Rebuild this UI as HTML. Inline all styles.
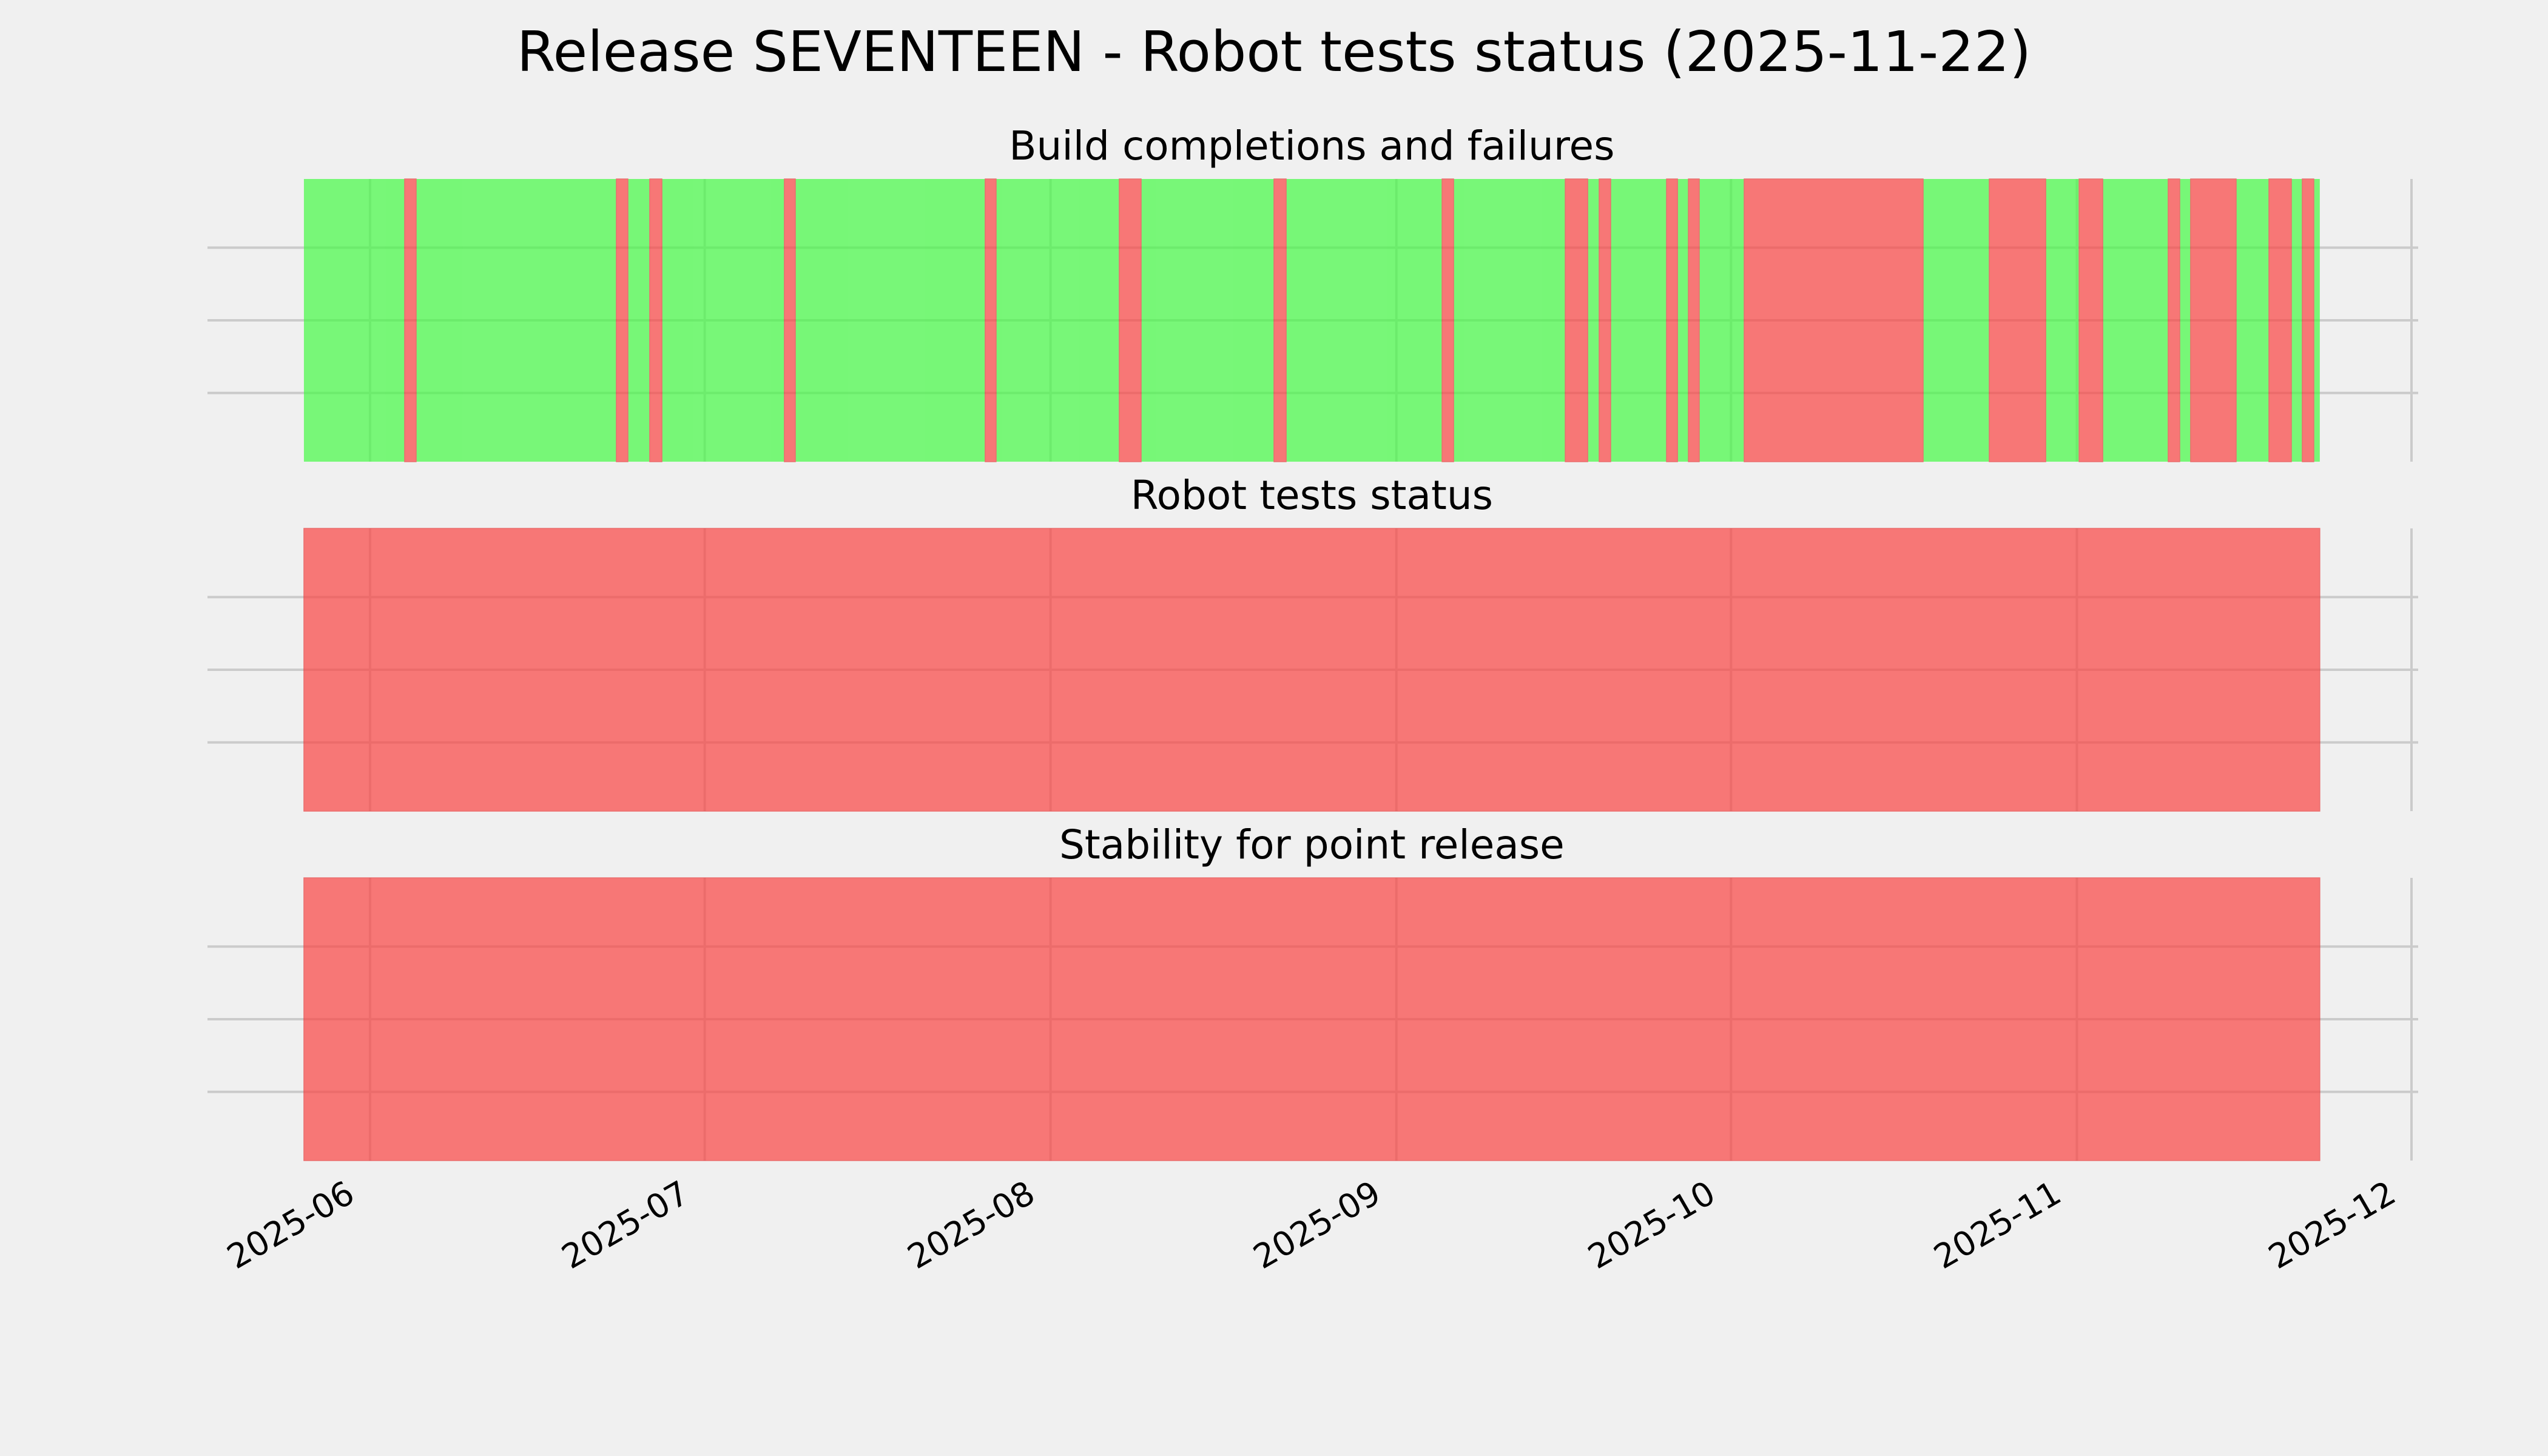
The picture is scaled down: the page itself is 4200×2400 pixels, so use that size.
<!DOCTYPE html>
<html><head><meta charset="utf-8"><style>
html,body{margin:0;padding:0;background:#f0f0f0;}
svg{display:block;font-family:"DejaVu Sans","Liberation Sans",sans-serif;}
</style></head><body>
<svg id="chart" width="4200" height="2400" viewBox="0 0 4200 2400" xmlns="http://www.w3.org/2000/svg">
<rect x="0" y="0" width="4200" height="2400" fill="#f0f0f0"/>
<text x="2100" y="117" font-size="92" text-anchor="middle" fill="#000">Release SEVENTEEN - Robot tests status (2025-11-22)</text>
<g id="panels"></g>
</svg>
<script>
// Days measured from 2025-06-01
const tickLabels = ["2025-06","2025-07","2025-08","2025-09","2025-10","2025-11","2025-12"];
const tickDays = [0, 30, 61, 92, 122, 153, 183];
const dataStartDay = -5.93;
const dataEndDay = 174.78;
const buildFailStarts = [3.10, 22.08, 25.07, 37.14, 55.14, 67.16, 81.03, 96.10, 107.14, 110.18, 116.22, 118.18, 123.18, 145.15, 153.20, 161.19, 163.20, 170.22, 173.21];
const buildFailEnds   = [4.13, 23.11, 26.16, 38.12, 56.12, 69.12, 82.12, 97.13, 109.15, 111.21, 117.20, 119.15, 139.22, 150.21, 155.32, 162.22, 167.28, 172.23, 174.24];
const robotFailStarts = [-5.93];
const robotFailEnds = [174.78];
const stabilityFailStarts = [-5.93];
const stabilityFailEnds = [174.78];
const panelTitles = ["Build completions and failures", "Robot tests status", "Stability for point release"];

const NS = "http://www.w3.org/2000/svg";
const g = document.getElementById('panels');
const X0 = 610, PXD = 18.388;
function xs(d){ return X0 + d*PXD; }
const panelTops = [295, 871, 1447];
const PH = 466;
const GREEN = "#45fa45", RED = "#fa4543", ALPHA = 0.7;
function mk(tag, attrs){ const e = document.createElementNS(NS, tag); for (const k in attrs) e.setAttribute(k, attrs[k]); return e; }

const failSets = [[buildFailStarts, buildFailEnds],[robotFailStarts, robotFailEnds],[stabilityFailStarts, stabilityFailEnds]];
const panelNames = ['build-panel','robot-panel','stability-panel'];

panelTops.forEach((top, pi) => {
  const pg = mk('g', {});
  
  
  g.appendChild(pg);
  const t = mk('text', {x: (xs(dataStartDay)+xs(dataEndDay))/2, y: top-32, 'font-size': 66, 'text-anchor': 'middle', fill: '#000'});
  t.textContent = panelTitles[pi];
  
  
  pg.appendChild(t);
  [0.243, 0.5, 0.757].forEach(f => {
    const l = mk('line', {x1: 342, x2: 3986, y1: top + PH*f, y2: top + PH*f, stroke: '#cbcbcb', 'stroke-width': 4});
    
    
    pg.appendChild(l);
  });
  tickDays.forEach(d => {
    const l = mk('line', {x1: xs(d), x2: xs(d), y1: top, y2: top + PH, stroke: '#cbcbcb', 'stroke-width': 4});
    
    
    pg.appendChild(l);
  });
  const bars = mk('g', {opacity: ALPHA});
  
  
  pg.appendChild(bars);
  if (pi === 0) {
    const bg = mk('rect', {x: xs(dataStartDay), y: top, width: xs(dataEndDay)-xs(dataStartDay), height: PH, fill: GREEN});
    
    
    bars.appendChild(bg);
  }
  const [s, e] = failSets[pi];
  for (let i = 0; i < s.length; i++) {
    const r = mk('rect', {x: xs(s[i]), y: top, width: xs(e[i])-xs(s[i]), height: PH, fill: RED, stroke: '#e83838', 'stroke-width': 1.5});
    
    
    bars.appendChild(r);
  }
});

tickDays.forEach((d, i) => {
  const x = xs(d) - 22, y = 1978;
  const t = mk('text', {x: x, y: y, 'font-size': 55, 'text-anchor': 'end', fill: '#000', transform: 'rotate(-30 ' + x + ' ' + y + ')'});
  t.textContent = tickLabels[i];
  
  
  g.appendChild(t);
});
</script>
</body></html>
